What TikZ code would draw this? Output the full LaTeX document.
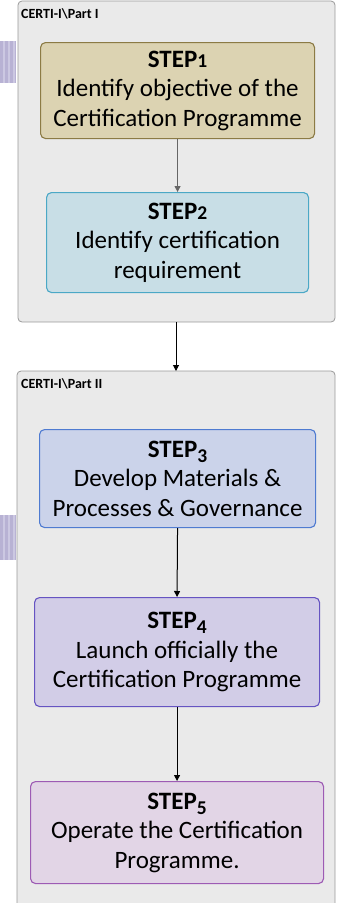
\documentclass[tikz,border=0pt]{standalone}
\usepackage{fontspec}
\setmainfont{Carlito}
\usetikzlibrary{arrows.meta}
\definecolor{contfill}{HTML}{EAEAEA}
\definecolor{contdraw}{HTML}{9A9A9A}
\definecolor{sAf}{HTML}{DCD3B2}\definecolor{sAd}{HTML}{8C7B45}
\definecolor{sBf}{HTML}{C8DEE6}\definecolor{sBd}{HTML}{4BA8C6}
\definecolor{sCf}{HTML}{CBD3EA}\definecolor{sCd}{HTML}{4F7BD1}
\definecolor{sDf}{HTML}{D2CDE7}\definecolor{sDd}{HTML}{6654C2}
\definecolor{sEf}{HTML}{E2D5E6}\definecolor{sEd}{HTML}{9D5BB4}
\definecolor{stripe}{HTML}{B8B2D4}
\definecolor{stripeL}{HTML}{CCC8E2}
% old-style looking figures: small digits, lowered for descending ones
\newcommand{\osup}[1]{\scalebox{0.78}{#1}}
\newcommand{\osdn}[1]{\raisebox{-0.2em}{\scalebox{0.78}{#1}}}
\newcommand{\stepttl}[1]{\textbf{STEP#1}}
\tikzset{
  container/.style={draw=contdraw, fill=contfill, rounded corners=4pt, line width=0.8pt},
  stepbox/.style={rounded corners=5pt, line width=1.1pt, align=center, font=\fontsize{25}{29.5}\selectfont, inner sep=0pt, anchor=north west},
  flow/.style={-{Triangle[length=6pt,width=6pt]}, line width=1pt},
  lbl/.style={font=\fontsize{14}{15}\selectfont\bfseries, anchor=west, inner sep=0pt}
}
\begin{document}
\begin{tikzpicture}[x=1pt,y=-1pt]
\useasboundingbox (0,0) rectangle (337,903);
\clip (0,0) rectangle (337,903);
% decorative stripes
\fill[stripe] (0,41) rectangle (16,83);
\fill[stripe] (0,515) rectangle (16,560);
\foreach \yy/\hh in {41/83,515/560}{
  \foreach \xx in {3,8,13}{\fill[stripeL] (\xx,\yy) rectangle (\xx+1.5,\hh);}
}
% containers
\draw[container] (18,1) rectangle (335,322);
\node[lbl] (l1) at (21,14) {CERTI-I\textbackslash Part I};
\draw[container] (17,371) rectangle (335,912);
\node[lbl] (l2) at (21,384) {CERTI-I\textbackslash Part II};
\coordinate (p1b) at (176,322);
\coordinate (p2t) at (176,371);
% steps
\node[stepbox, draw=sAd, fill=sAf, minimum width=274pt, minimum height=96pt] (s1) at (40,42)
  {\stepttl{\osup{1}}\\Identify objective of the\\Certification Programme};
\node[stepbox, draw=sBd, fill=sBf, minimum width=262pt, minimum height=100pt] (s2) at (46,192)
  {\stepttl{\osup{2}}\\Identify certification\\requirement};
\node[stepbox, draw=sCd, fill=sCf, minimum width=276pt, minimum height=98pt] (s3) at (39,429)
  {\stepttl{\osdn{3}}\\Develop Materials \&\\Processes \& Governance};
\node[stepbox, draw=sDd, fill=sDf, minimum width=285pt, minimum height=109pt] (s4) at (34,597)
  {\stepttl{\osdn{4}}\\Launch officially the\\Certification Programme};
\node[stepbox, draw=sEd, fill=sEf, minimum width=293pt, minimum height=102pt] (s5) at (30,781)
  {\stepttl{\osdn{5}}\\Operate the Certification\\Programme.};
% connectors
\draw[flow, draw=black!60, fill=black!60] (s1.south) -- (s2.north);
\draw[flow] (p1b) -- (p2t);
\draw[flow] (s3.south) -- (s4.north);
\draw[flow] (s4.south) -- (s5.north);
\end{tikzpicture}
\end{document}
